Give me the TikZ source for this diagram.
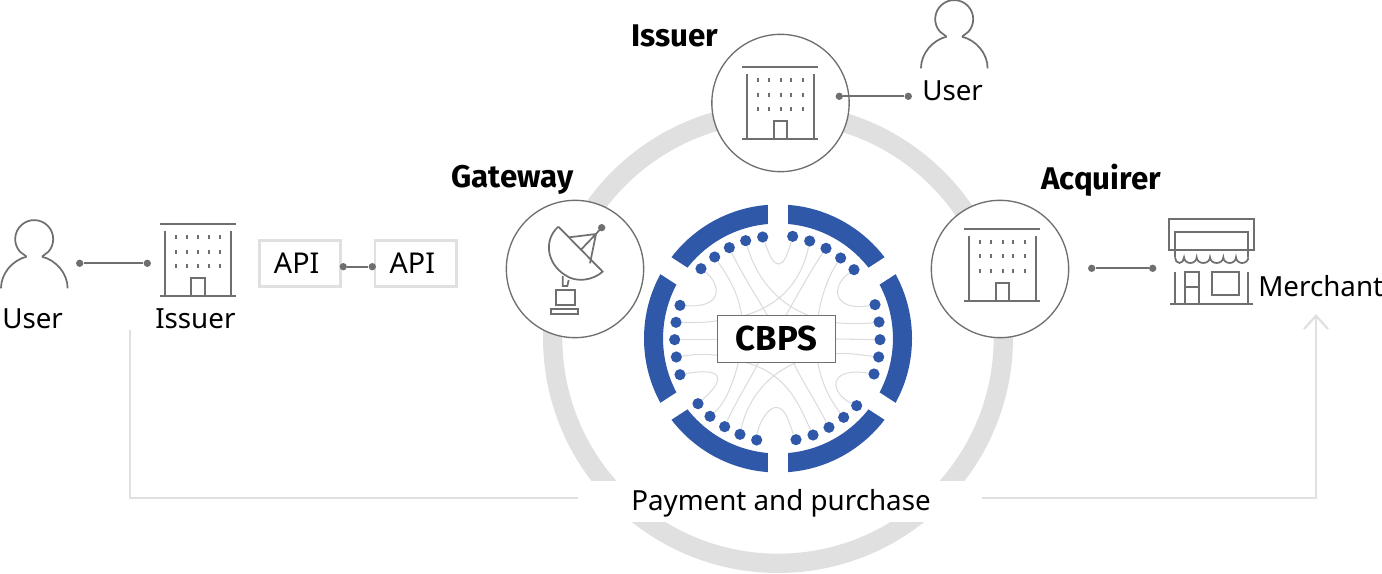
\documentclass[tikz,border=0pt]{standalone}
\usepackage{fontspec}
\setmainfont{Noto Sans}
\newfontfamily\heavyf{Fira Sans}
\usetikzlibrary{arrows.meta}
\definecolor{ringgrey}{HTML}{E0E0E0}
\definecolor{wiregrey}{HTML}{DCDCDC}
\definecolor{icongrey}{HTML}{6F6F6F}
\definecolor{cbpsblue}{HTML}{2F58A8}
\tikzset{
  fine/.style={x=0.25pt,y=-0.25pt},
  icon/.style={draw=icongrey,line width=1.3pt},
  wire/.style={draw=wiregrey,line width=0.8pt},
  route/.style={draw=ringgrey,line width=1.7pt},
  apibox/.style={draw=ringgrey,line width=1.9pt,minimum width=61pt,minimum height=34.5pt,inner sep=0pt,font=\fontsize{21.5}{24}\selectfont},
  lbl/.style={inner sep=0pt,font=\fontsize{20.8}{24}\selectfont,text=black},
  blbl/.style={inner sep=0pt,font=\heavyf\fontsize{23.5}{24}\selectfont\bfseries,text=black},
  hub/.style={circle,draw=icongrey,line width=1pt,fill=white,minimum size=103pt,inner sep=0pt},
  bead/.style={circle,fill=cbpsblue,minimum size=8.4pt,inner sep=0pt},
  pin/.style={circle,fill=icongrey,minimum size=5.5pt,inner sep=0pt},
  pics/building/.style={code={
    \begin{scope}[fine]
      \draw[icon] (-114,0) -- (114,0);
      \draw[icon] (-100,20) -- (-100,216) (100,20) -- (100,216);
      \draw[icon] (-114,216) -- (114,216);
      \draw[icon] (-20,216) -- (-20,162) -- (20,162) -- (20,216);
      \foreach \wy in {38,82,126}
        \foreach \wx in {-67,-33,1,33,67}
          \draw[icongrey,line width=1.3pt] (\wx,\wy-6) -- (\wx,\wy+6);
    \end{scope}}},
  pics/person/.style={code={
    \begin{scope}[fine]
      \draw[icon] (-43,90) arc[start angle=138.5,end angle=401.5,radius=57] -- (23,105)
        (-43,90) -- (-23,105);
      \draw[icon] (-100,200) .. controls (-100,155) and (-65,115) .. (-23,105)
        (100,200) .. controls (100,155) and (65,115) .. (23,105);
    \end{scope}}}
}
\begin{document}
\begin{tikzpicture}[x=0.75pt,y=-0.75pt]
\useasboundingbox (0,0) rectangle (1382,574);
\clip (0,0) rectangle (1382,574);

% ring
\node[circle,draw=ringgrey,line width=14.5pt,minimum size=338pt,inner sep=0pt] (ring) at (778,338) {};
\fill[white] (540,481) rectangle (1020,522);

% routes
\coordinate (r1) at (130,330); \coordinate (r2) at (130,498); \coordinate (r3) at (578,498);
\coordinate (r4) at (982,498); \coordinate (r5) at (1316,498); \coordinate (r6) at (1316,314);
\draw[route] (r1) -- (r2) -- (r3);
\draw[route,-{Straight Barb[length=10pt,width=18pt]}] (r4) -- (r5) -- (r6);

% blue ring
\node[circle,draw=cbpsblue,line width=14.3pt,minimum size=186.7pt,inner sep=0pt] (blue) at (778,338.5) {};
\foreach \ang in {90,33,147}
  \draw[white,line width=15pt] (778,338.5) ++(\ang:150) -- ++(\ang+180:300);

% beads
\begin{scope}[shift={(630,190)},fine]
\foreach \n/\px/\py in {
 a1/213/236,a2/254/201,a3/298/173,a4/347/152,a5/398/141,
 b1/488/139,b2/539/153,b3/588/175,b4/632/204,b5/672/239,
 c1/735/344,c2/747/396,c3/750/449,c4/746/501,c5/732/552,
 d1/680/647,d2/641/682,d3/597/712,d4/549/735,d5/498/749,
 e1/380/750,e2/330/733,e3/284/710,e4/240/679,e5/204/641,
 f1/150/346,f2/138/397,f3/134/449,f4/139/501,f5/150/554}
  \node[bead] (\n) at (\px,\py) {};

% ports on the box
\foreach \n/\px/\py in {
 t1/335/376,t2/412/376,t3/535/376,t4/345/376,t5/468/376,t6/565/376,
 l2/262/392,l3/262/449,l4/262/496,r2p/617/398,r3p/617/447,r4p/617/491,
 u1/325/517,u2/385/517,u3/500/517,u4/345/517,u5/490/517,u6/563/517}
  \coordinate (\n) at (\px,\py);

\draw[wire] (a5) .. controls (420,200) and (430,222) .. (446,222) .. controls (462,222) and (472,195) .. (b1);
\draw[wire] (a4) .. controls (375,250) and (430,335) .. (t3);
\draw[wire] (a3) .. controls (340,260) and (380,320) .. (t2);
\draw[wire] (a2) .. controls (295,260) and (325,310) .. (t1);
\draw[wire] (a1) .. controls (270,280) and (285,355) .. (f1);
\draw[wire] (b2) .. controls (520,250) and (470,340) .. (t4);
\draw[wire] (b3) .. controls (550,230) and (510,300) .. (t5);
\draw[wire] (b4) .. controls (600,250) and (575,310) .. (t6);
\draw[wire] (b5) .. controls (600,290) and (610,365) .. (c1);
\draw[wire] (f2) .. controls (200,398) and (230,398) .. (l2);
\draw[wire] (f3) -- (l3);
\draw[wire] (f4) .. controls (200,492) and (230,492) .. (l4);
\draw[wire] (c2) .. controls (700,402) and (660,402) .. (r2p);
\draw[wire] (c3) -- (r3p);
\draw[wire] (c4) .. controls (700,496) and (660,488) .. (r4p);
\draw[wire] (f5) .. controls (285,530) and (285,570) .. (e5);
\draw[wire] (e4) .. controls (285,640) and (310,580) .. (u1);
\draw[wire] (e3) .. controls (320,630) and (360,570) .. (u2);
\draw[wire] (e2) .. controls (350,640) and (400,560) .. (u3);
\draw[wire] (e1) .. controls (385,700) and (415,652) .. (438,652) .. controls (470,652) and (480,710) .. (d5);
\draw[wire] (d4) .. controls (505,640) and (470,550) .. (u4);
\draw[wire] (d3) .. controls (560,640) and (515,570) .. (u5);
\draw[wire] (d2) .. controls (600,630) and (575,580) .. (u6);
\draw[wire] (d1) .. controls (600,610) and (590,530) .. (c5);
\end{scope}

% CBPS
\node[draw=icongrey,line width=1pt,fill=white,minimum width=88.8pt,minimum height=35.2pt,inner sep=0pt,font=\heavyf\fontsize{26}{26}\selectfont\bfseries] (cbps) at (776.5,338.8) {CBPS};

% hubs
\node[hub] (issuerhub) at (780.5,103) {};
\node[hub] (gatewayhub) at (575,269) {};
\node[hub] (acquirerhub) at (1000,269) {};
\pic at (780.3,67.3) {building};
\pic at (1002.3,229) {building};
\pic at (198,224.3) {building};
\pic at (34.3,221.7) {person};
\pic at (954.3,1.7) {person};

% gateway dish
\begin{scope}[shift={(490,0)},fine]
\draw[icon] (205,680) -- (338,815) .. controls (310,840) and (260,850) .. (225,825) .. controls (170,790) and (160,720) .. (205,680);
\draw[icon] (237,712) -- (318,702) -- (300,790) (272,750) -- (318,702) -- (330,688);
\node[pin] (feed) at (335,683) {};
\draw[icon] (218,828) -- (218,858) -- (232,858) -- (236,840);
\draw[icon] (197,870) rectangle (254,916);
\draw[icon] (184,928) rectangle (264,941);
\end{scope}

% merchant icon
\begin{scope}[shift={(1080,200)},fine]
\draw[icon] (267,58) rectangle (522,149);
\draw[icon] (285,172) -- (285,97) -- (505,97) -- (505,172);
\draw[icon] (285,172) arc[start angle=180,end angle=0,x radius=13.5,y radius=17]
  arc[start angle=180,end angle=0,x radius=19,y radius=17]
  arc[start angle=180,end angle=0,x radius=20,y radius=17]
  arc[start angle=180,end angle=0,x radius=20,y radius=17]
  arc[start angle=180,end angle=0,x radius=19,y radius=17]
  arc[start angle=180,end angle=0,x radius=18.5,y radius=17];
\draw[icon] (270,313) -- (520,313);
\draw[icon] (285,215) -- (285,313) (505,215) -- (505,313);
\draw[icon] (315,313) -- (315,215) -- (357,215) -- (357,313) (315,260) -- (357,260);
\draw[icon] (397,215) rectangle (478,286);
\end{scope}

% API
\node[apibox] (api1) at (300,263.7) {\raisebox{-2pt}{\kern-5pt API}};
\node[apibox] (api2) at (415.7,263.7) {\raisebox{-2pt}{\kern-5pt API}};

% pin connectors
\node[pin] (p1) at (79.7,263.3) {}; \node[pin] (p2) at (147.3,263.3) {};
\draw[icon] (p1) -- (p2);
\node[pin] (p3) at (343.3,266.7) {}; \node[pin] (p4) at (372.3,266.7) {};
\draw[icon] (p3) -- (p4);
\node[pin] (p5) at (839.3,96.3) {}; \node[pin] (p6) at (908.3,96.3) {};
\draw[icon] (p5) -- (p6);
\node[pin] (p7) at (1091.7,268.3) {}; \node[pin] (p8) at (1152.7,268.3) {};
\draw[icon] (p7) -- (p8);

% labels
\node[blbl,anchor=west] (l1) at (631,36) {Issuer};
\node[blbl,anchor=west] (l2) at (451,180) {Gateway};
\node[blbl,anchor=west] (l3) at (1041,180) {Acquirer};
\node[lbl,anchor=west] (l4) at (922,91) {User};
\node[lbl,anchor=west] (l5) at (2,319) {User};
\node[lbl,anchor=west] (l6) at (155,319) {Issuer};
\node[lbl,anchor=west] (l7) at (1258,286) {Merchant};
\node[lbl,anchor=west] (l8) at (631,503) {Payment and purchase};
\end{tikzpicture}
\end{document}
